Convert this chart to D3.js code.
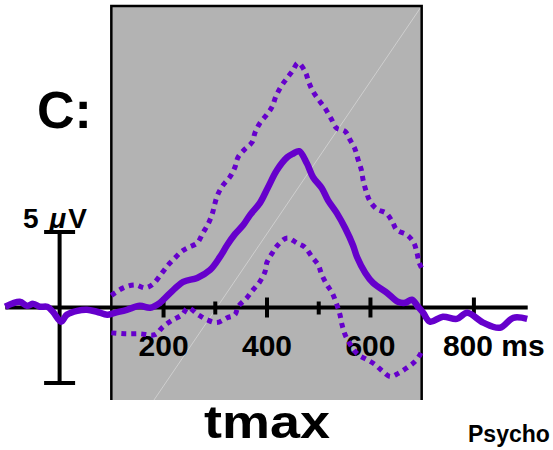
<!DOCTYPE html>
<html>
<head>
<meta charset="utf-8">
<script src="https://cdn.jsdelivr.net/npm/d3@7"></script>
<style>
  body { margin: 0; background: #fff; }
  svg { display: block; font-family: "Liberation Sans", Arial, Helvetica, sans-serif; font-weight: bold; }
</style>
</head>
<body>
<svg></svg>
<script>
// grand average waveform (ms, µV)
const meanTime = [-105, -77, -63, -51, -38, -24, -13, 3, 14, 34, 53, 72, 92, 107, 130, 155, 175,
    194, 214, 239, 266, 291, 310, 324, 339, 355, 368, 387, 403, 420, 440, 452, 463, 478, 490, 507,
    519, 536, 552, 567, 575, 591, 606, 633, 654, 668, 681, 693, 703, 716, 741, 768, 788, 819, 851, 877, 904];
const meanValue = [0.05, 0.38, 0.11, 0.24, 0.05, 0.05, -0.28, -0.94, -0.48, -0.22, -0.15, -0.28, -0.48, -0.35, -0.15, 0.11, -0.02,
    0.31, 0.97, 1.70, 1.96, 2.49, 3.35, 4.14, 4.86, 5.46, 6.12, 6.91, 7.97, 9.09, 9.95, 10.2, 10.35, 9.55, 8.63, 7.9,
    7.1, 6.25, 5.26, 4.14, 3.35, 2.29, 1.63, 0.97, 0.38, 0.31, 0.51, 0.05, -0.35, -0.94, -0.61, -0.75, -0.35, -1.0, -1.34, -0.68, -0.75];

// upper / lower bounds, only inside the analysis window
const upperTime = [100, 123, 146, 165, 179, 198, 210, 223, 237, 250, 266, 277, 287, 295, 300, 306, 316, 329, 339, 345,
    358, 372, 378, 387, 401, 411, 418, 428, 440, 451, 461, 475, 482, 490, 502, 513, 525, 535, 552, 562,
    571, 577, 583, 587, 592, 600, 614, 631, 643, 652, 672, 685, 691, 695, 700];
const upperValue = [0.8, 1.3, 1.5, 1.3, 1.5, 2.29, 2.82, 3.28, 3.74, 4.0, 4.27, 4.93, 5.52, 6.18, 6.85, 7.5, 8.1, 8.63, 9.29, 9.95,
    10.48, 10.94, 11.6, 12.2, 12.79, 13.3, 13.97, 14.63, 15.2, 15.7, 16.2, 15.6, 14.9, 14.3, 13.7, 13.2, 12.5, 11.9, 11.66, 11.07,
    10.5, 9.8, 9.16, 8.4, 7.77, 7.04, 6.5, 6.25, 5.7, 5.13, 4.8, 4.27, 3.6, 3.0, 2.6];
const lowerTime = [100, 126, 155, 184, 200, 219, 237, 248, 268, 285, 304, 324, 339, 345, 362, 374, 387, 397, 401, 411,
    422, 440, 459, 474, 488, 500, 507, 517, 527, 536, 542, 546, 552, 562, 577, 594, 610, 625, 639, 654,
    672, 687, 697, 700];
const lowerValue = [-1.68, -1.74, -1.74, -1.8, -1.27, -0.81, -0.48, -0.02, -0.48, -0.81, -1.0, -0.68, -0.48, 0.05, 0.64, 1.17, 1.7, 2.36, 3.0, 3.6,
    4.14, 4.6, 4.27, 4.0, 3.35, 2.82, 2.16, 1.5, 0.97, 0.18, -0.48, -1.14, -1.8, -2.46, -3.12, -3.45, -3.78, -4.24, -4.57, -4.38,
    -3.98, -3.58, -3.12, -2.92];

const windowMs = [100, 700];
const axisRange = [-105, 905];
const tickValues = [200, 300, 400, 500, 600, 800];
const majorTicks = [200, 400, 600, 800];
const scaleBarUv = 5;

const purple = "#6600cc";
const width = 553;
const height = 450;

const svg = d3.select("svg")
    .attr("width", width)
    .attr("height", height);

const x = d3.scaleLinear().domain([0, 800]).range([59.6, 473.4]);
const y = d3.scaleLinear().domain([-5, 5]).range([383, 232]);

// shaded analysis window
const boxTop = 6, boxBottom = 400;
svg.append("rect")
    .attr("x", x(windowMs[0]))
    .attr("y", boxTop)
    .attr("width", x(windowMs[1]) - x(windowMs[0]))
    .attr("height", boxBottom - boxTop)
    .attr("fill", "#b3b3b3");

svg.append("line")
    .attr("x1", 154).attr("y1", boxBottom)
    .attr("x2", x(windowMs[1])).attr("y2", boxTop)
    .attr("stroke", "#d6d6d6")
    .attr("stroke-width", 0.8);

svg.append("path")
    .attr("d", `M${x(windowMs[0])},${boxBottom}V${boxTop}H${x(windowMs[1])}V${boxBottom}`)
    .attr("fill", "none")
    .attr("stroke", "#000")
    .attr("stroke-width", 2.5);

// time axis
svg.append("line")
    .attr("x1", x(axisRange[0])).attr("x2", x(axisRange[1]))
    .attr("y1", y(0)).attr("y2", y(0))
    .attr("stroke", "#000")
    .attr("stroke-width", 4);

const axis = svg.append("g")
    .attr("transform", `translate(0,${y(0)})`)
    .call(d3.axisBottom(x)
        .tickValues(tickValues)
        .tickFormat(d => majorTicks.includes(d) ? (d === 800 ? "800 ms" : d) : ""));
axis.select(".domain").remove();
axis.selectAll(".tick line")
    .attr("stroke", "#000")
    .attr("stroke-width", 4)
    .attr("y1", d => majorTicks.includes(d) ? -10 : -6)
    .attr("y2", d => majorTicks.includes(d) ? 10 : 7);
axis.selectAll(".tick text")
    .attr("fill", "#000")
    .attr("y", 48.5)
    .attr("dy", 0)
    .style("font-size", "30px")
    .style("font-family", "inherit")
    .style("font-weight", "bold");
axis.selectAll(".tick text")
    .filter(d => d === 800)
    .attr("text-anchor", "start")
    .attr("x", -31);

// amplitude scale bar
const bar = svg.append("g").attr("stroke", "#000").attr("stroke-width", 4);
bar.append("line")
    .attr("x1", x(0)).attr("x2", x(0))
    .attr("y1", y(scaleBarUv)).attr("y2", y(-scaleBarUv));
[scaleBarUv, -scaleBarUv].forEach(v => {
    bar.append("line")
        .attr("x1", x(0) - 15.5).attr("x2", x(0) + 15.5)
        .attr("y1", y(v)).attr("y2", y(v));
});

const barLabel = svg.append("text")
    .attr("x", 23)
    .attr("y", 228)
    .style("font-size", "28px");
barLabel.append("tspan").text("5 ");
barLabel.append("tspan").attr("dx", 3).style("font-style", "italic").text("\u03bc");
barLabel.append("tspan").attr("dx", 2).text("V");

// waveforms
const line = d3.line()
    .x(d => x(d[0]))
    .y(d => y(d[1]))
    .curve(d3.curveCatmullRom);

[[upperTime, upperValue], [lowerTime, lowerValue]].forEach(([t, v]) => {
    svg.append("path")
        .attr("d", line(d3.zip(t, v)))
        .attr("fill", "none")
        .attr("stroke", purple)
        .attr("stroke-width", 5)
        .attr("stroke-dasharray", "5,5");
});

svg.append("path")
    .attr("d", line(d3.zip(meanTime, meanValue)))
    .attr("fill", "none")
    .attr("stroke", purple)
    .attr("stroke-width", 6.5)
    .attr("stroke-linejoin", "round");

// labels
svg.append("text")
    .attr("x", 37)
    .attr("y", 128)
    .style("font-size", "52px")
    .text("C:");

svg.append("text")
    .attr("x", 204)
    .attr("y", 438)
    .attr("textLength", 126)
    .attr("lengthAdjust", "spacingAndGlyphs")
    .style("font-size", "46px")
    .text("tmax");

svg.append("text")
    .attr("x", 468)
    .attr("y", 442)
    .style("font-size", "23px")
    .text("Psycho");
</script>
</body>
</html>
